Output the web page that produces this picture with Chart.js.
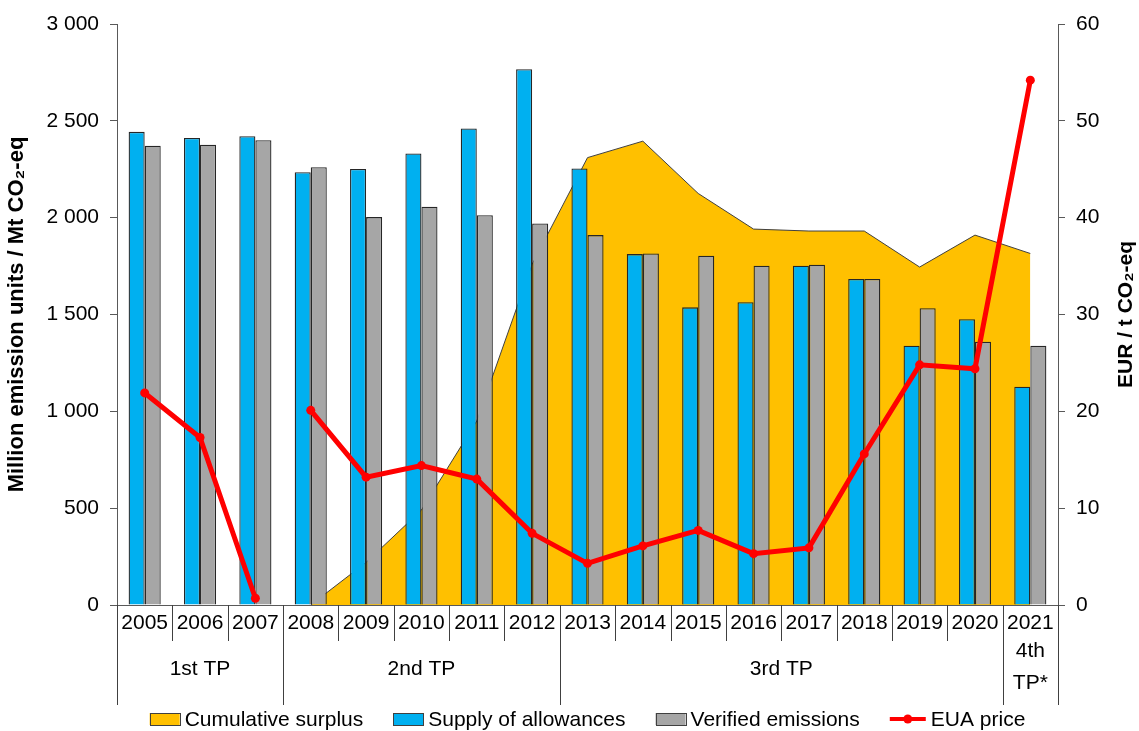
<!DOCTYPE html>
<html>
<head>
<meta charset="utf-8">
<title>EU ETS</title>
<script src="https://cdn.jsdelivr.net/npm/chart.js@4"></script>
<style>
    html, body { margin: 0; padding: 0; background: #fff; }
    #wrap { width: 1139px; height: 731px; }
</style>
</head>
<body>
<div id="wrap"><canvas id="ets" width="1139" height="731"></canvas></div>
<script>
// values
const years = ['2005', '2006', '2007', '2008', '2009', '2010', '2011', '2012', '2013',
               '2014', '2015', '2016', '2017', '2018', '2019', '2020', '2021'];
const surplus = [null, null, null, 0, 220, 490, 950, 1760, 2310, 2395, 2125, 1941, 1931, 1931, 1745, 1910, 1815];
const supply = [2443, 2412, 2421, 2235, 2251, 2331, 2461, 2766, 2254, 1812, 1537, 1563, 1752, 1683, 1339, 1476, 1127];
const verified = [2371, 2377, 2400, 2260, 2003, 2057, 2013, 1970, 1910, 1815, 1803, 1752, 1757, 1683, 1532, 1359, 1339];
const euaPrice = [21.9, 17.3, 0.7, 20.1, 13.2, 14.4, 13.0, 7.4, 4.3, 6.1, 7.7, 5.3, 5.9, 15.6, 24.8, 24.4, 54.2];
// the price line is not joined between 2007 and 2008
const priceBreakAfter = 2;

// trading periods: label, first and last year index
const periodLabels = [['1st TP'], ['2nd TP'], ['3rd TP'], ['4th', 'TP*']];
const periodFirst = [0, 3, 8, 16];
const periodLast = [2, 7, 15, 16];

const leftTicks = [0, 500, 1000, 1500, 2000, 2500, 3000];
const rightTicks = [0, 10, 20, 30, 40, 50, 60];

const FONT = "'Liberation Sans', Arial, sans-serif";
Chart.defaults.font.family = FONT;
Chart.defaults.color = '#000';

function spaced(v) {
    if (v < 1000) return String(v);
    return Math.floor(v / 1000) + ' ' + String(v % 1000).padStart(3, '0');
}

// separators between years, period labels, right title and the legend
const extras = {
    id: 'extras',
    afterDraw(chart) {
        const x = chart.scales.x;
        const area = chart.chartArea;
        const ctx = chart.ctx;
        const n = years.length;
        const edge = i => {
            if (i === 0) return area.left;
            if (i === n) return area.right;
            return (x.getPixelForValue(i - 1) + x.getPixelForValue(i)) / 2;
        };
        const longOnes = periodFirst.concat([n]);
        ctx.save();
        ctx.strokeStyle = '#404040';
        ctx.lineWidth = 1;
        for (let i = 0; i <= n; i++) {
            const px = Math.round(edge(i)) + 0.5;
            const len = longOnes.includes(i) ? 100 : 36;
            ctx.beginPath();
            ctx.moveTo(px, area.bottom);
            ctx.lineTo(px, area.bottom + len);
            ctx.stroke();
        }
        ctx.fillStyle = '#000';
        ctx.font = '21px ' + FONT;
        ctx.textAlign = 'center';
        ctx.textBaseline = 'middle';
        periodLabels.forEach((lines, p) => {
            const cx = (edge(periodFirst[p]) + edge(periodLast[p] + 1)) / 2;
            const y0 = lines.length > 1 ? area.bottom + 46 : area.bottom + 64;
            lines.forEach((t, k) => ctx.fillText(t, cx, y0 + k * 32));
        });
        ctx.restore();

        // right axis title, reading upwards
        ctx.save();
        ctx.fillStyle = '#000';
        ctx.font = 'bold 21px ' + FONT;
        ctx.textAlign = 'center';
        ctx.textBaseline = 'middle';
        ctx.translate(chart.width - 13, (area.top + area.bottom) / 2);
        ctx.rotate(-Math.PI / 2);
        ctx.fillText('EUR / t CO\u2082-eq', 0, 0);
        ctx.restore();

        // legend
        const ds = chart.data.datasets;
        const boxW = 30, lineW = 36, boxH = 12, gapText = 5, gapItem = 30;
        ctx.save();
        ctx.font = '21px ' + FONT;
        const widths = ds.map(d => (d.fill ? boxW : (d.type === 'line' ? lineW : boxW)) + gapText + ctx.measureText(d.label).width);
        const total = widths.reduce((a, b) => a + b, 0) + gapItem * (ds.length - 1);
        let lx = (area.left + area.right) / 2 - total / 2;
        const cy = chart.height - 12;
        ds.forEach((d, i) => {
            let sw = boxW;
            if (d.type === 'line' && !d.fill) {
                sw = lineW;
                ctx.strokeStyle = d.borderColor;
                ctx.fillStyle = d.borderColor;
                ctx.lineWidth = 4;
                ctx.beginPath();
                ctx.moveTo(lx, cy);
                ctx.lineTo(lx + sw, cy);
                ctx.stroke();
                ctx.beginPath();
                ctx.arc(lx + sw / 2, cy, 4.5, 0, Math.PI * 2);
                ctx.fill();
            } else {
                ctx.fillStyle = d.backgroundColor;
                ctx.strokeStyle = '#404040';
                ctx.lineWidth = 1;
                ctx.fillRect(lx, cy - boxH / 2, sw, boxH);
                ctx.strokeRect(Math.round(lx) + 0.5, Math.round(cy - boxH / 2) + 0.5, sw, boxH);
            }
            ctx.fillStyle = '#000';
            ctx.textAlign = 'left';
            ctx.textBaseline = 'middle';
            ctx.fillText(d.label, lx + sw + gapText, cy + 1);
            lx += widths[i] + gapItem;
        });
        ctx.restore();
    }
};

const ctx = document.getElementById('ets').getContext('2d');
new Chart(ctx, {
    type: 'bar',
    data: {
        labels: years,
        datasets: [
            {
                type: 'line',
                label: 'Cumulative surplus',
                data: surplus,
                yAxisID: 'y',
                order: 3,
                fill: 'origin',
                backgroundColor: '#FFC000',
                borderColor: '#404040',
                borderWidth: 1,
                pointRadius: 0,
                tension: 0
            },
            {
                label: 'Supply of allowances',
                data: supply,
                yAxisID: 'y',
                order: 2,
                backgroundColor: '#00B0F0',
                borderColor: '#262626',
                borderWidth: 1.3,
                categoryPercentage: 0.58,
                barPercentage: 1.0
            },
            {
                label: 'Verified emissions',
                data: verified,
                yAxisID: 'y',
                order: 2,
                backgroundColor: '#A6A6A6',
                borderColor: '#262626',
                borderWidth: 1.3,
                categoryPercentage: 0.58,
                barPercentage: 1.0
            },
            {
                type: 'line',
                label: 'EUA price',
                data: euaPrice,
                yAxisID: 'y1',
                order: 1,
                borderColor: '#FF0000',
                backgroundColor: '#FF0000',
                borderWidth: 5,
                pointRadius: 4.5,
                pointBorderWidth: 0,
                pointBackgroundColor: '#FF0000',
                tension: 0,
                segment: {
                    borderColor: c => c.p0DataIndex === priceBreakAfter ? 'rgba(0,0,0,0)' : undefined
                }
            }
        ]
    },
    options: {
        responsive: false,
        animation: false,
        layout: { padding: { top: 24, left: 0, right: 0, bottom: 0 } },
        plugins: {
            tooltip: { enabled: false },
            legend: { display: false }
        },
        scales: {
            x: {
                afterFit(scale) { scale.height = 126; },
                grid: { display: false, drawTicks: false },
                border: { display: true, color: '#595959' },
                ticks: { font: { size: 21 }, color: '#000', padding: 6, maxRotation: 0, autoSkip: false }
            },
            y: {
                position: 'left',
                min: 0,
                max: 3000,
                afterFit(scale) { scale.width = 117; },
                afterBuildTicks(scale) { scale.ticks = leftTicks.map(v => ({ value: v })); },
                grid: { drawOnChartArea: false, drawTicks: true, tickLength: 7, color: '#595959' },
                border: { display: true, color: '#595959' },
                ticks: { font: { size: 21 }, color: '#000', padding: 11, callback: v => spaced(v) },
                title: {
                    display: true,
                    text: 'Million emission units / Mt CO\u2082-eq',
                    font: { size: 22, weight: 'bold' },
                    color: '#000',
                    padding: { top: 4, bottom: 0 }
                }
            },
            y1: {
                position: 'right',
                min: 0,
                max: 60,
                afterFit(scale) { scale.width = 81; },
                afterBuildTicks(scale) { scale.ticks = rightTicks.map(v => ({ value: v })); },
                grid: { drawOnChartArea: false, drawTicks: true, tickLength: 7, color: '#595959' },
                border: { display: true, color: '#595959' },
                ticks: { font: { size: 21 }, color: '#000', padding: 11 }
            }
        }
    },
    plugins: [extras]
});
</script>
</body>
</html>
